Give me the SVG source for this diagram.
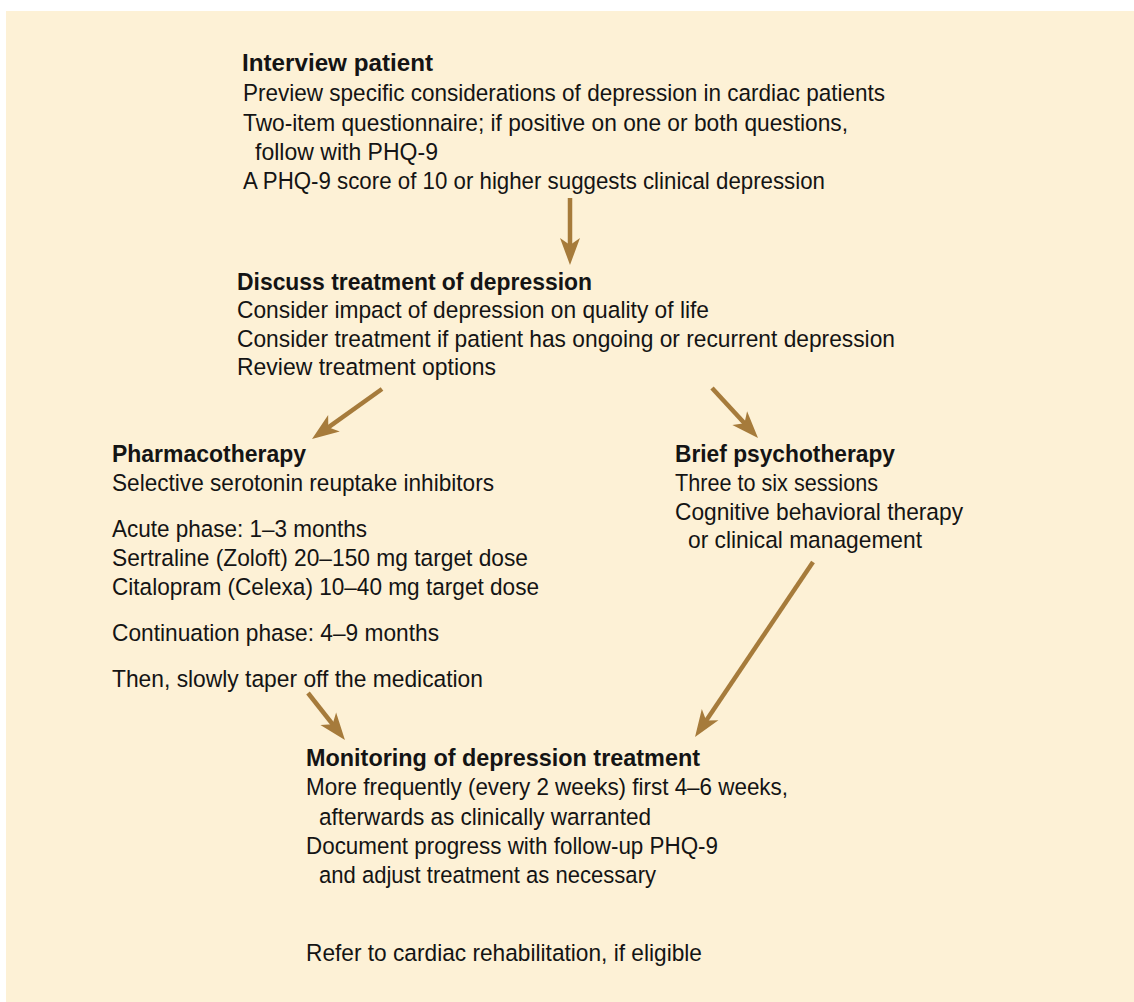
<svg xmlns="http://www.w3.org/2000/svg" width="1134" height="1002" viewBox="0 0 1134 1002">
  <style>
    text { font-family: "Liberation Sans", Arial, sans-serif; font-size: 24.5px; fill: #141414; }
    .h { font-weight: 700; }
    .arrow { stroke: #A67B3B; stroke-width: 4.5; fill: none; marker-end: url(#head); }
  </style>
  <defs>
    <marker id="head" viewBox="-28 -11 30 22" refX="-8" refY="0" markerWidth="30" markerHeight="22" markerUnits="userSpaceOnUse" orient="auto">
      <path d="M0,0 L-27,-10 L-20,0 L-27,10 Z" fill="#A67B3B"/>
    </marker>
  </defs>
  <rect x="6" y="11" width="1128" height="991" fill="#FDF1D6"/>

  <g id="interview">
    <text class="h" x="242" y="71" textLength="191" lengthAdjust="spacingAndGlyphs">Interview patient</text>
    <text x="243" y="101" textLength="642" lengthAdjust="spacingAndGlyphs">Preview specific considerations of depression in cardiac patients</text>
    <text x="243" y="131" textLength="605" lengthAdjust="spacingAndGlyphs">Two-item questionnaire; if positive on one or both questions,</text>
    <text x="255" y="160" textLength="183" lengthAdjust="spacingAndGlyphs">follow with PHQ-9</text>
    <text x="243" y="189" textLength="582" lengthAdjust="spacingAndGlyphs">A PHQ-9 score of 10 or higher suggests clinical depression</text>
  </g>

  <g id="discuss">
    <text class="h" x="237" y="290" textLength="355" lengthAdjust="spacingAndGlyphs">Discuss treatment of depression</text>
    <text x="237" y="318" textLength="472" lengthAdjust="spacingAndGlyphs">Consider impact of depression on quality of life</text>
    <text x="237" y="347" textLength="658" lengthAdjust="spacingAndGlyphs">Consider treatment if patient has ongoing or recurrent depression</text>
    <text x="237" y="375" textLength="259" lengthAdjust="spacingAndGlyphs">Review treatment options</text>
  </g>

  <g id="pharmacotherapy">
    <text class="h" x="112" y="462" textLength="194" lengthAdjust="spacingAndGlyphs">Pharmacotherapy</text>
    <text x="112" y="491" textLength="382" lengthAdjust="spacingAndGlyphs">Selective serotonin reuptake inhibitors</text>
    <text x="112" y="537" textLength="255" lengthAdjust="spacingAndGlyphs">Acute phase: 1–3 months</text>
    <text x="112" y="566" textLength="416" lengthAdjust="spacingAndGlyphs">Sertraline (Zoloft) 20–150 mg target dose</text>
    <text x="112" y="595" textLength="427" lengthAdjust="spacingAndGlyphs">Citalopram (Celexa) 10–40 mg target dose</text>
    <text x="112" y="641" textLength="327" lengthAdjust="spacingAndGlyphs">Continuation phase: 4–9 months</text>
    <text x="112" y="687" textLength="371" lengthAdjust="spacingAndGlyphs">Then, slowly taper off the medication</text>
  </g>

  <g id="psychotherapy">
    <text class="h" x="675" y="462" textLength="220" lengthAdjust="spacingAndGlyphs">Brief psychotherapy</text>
    <text x="675" y="491" textLength="203" lengthAdjust="spacingAndGlyphs">Three to six sessions</text>
    <text x="675" y="520" textLength="288" lengthAdjust="spacingAndGlyphs">Cognitive behavioral therapy</text>
    <text x="688" y="548" textLength="234" lengthAdjust="spacingAndGlyphs">or clinical management</text>
  </g>

  <g id="monitoring">
    <text class="h" x="306" y="766" textLength="394" lengthAdjust="spacingAndGlyphs">Monitoring of depression treatment</text>
    <text x="306" y="795" textLength="482" lengthAdjust="spacingAndGlyphs">More frequently (every 2 weeks) first 4–6 weeks,</text>
    <text x="319" y="825" textLength="332" lengthAdjust="spacingAndGlyphs">afterwards as clinically warranted</text>
    <text x="306" y="854" textLength="412" lengthAdjust="spacingAndGlyphs">Document progress with follow-up PHQ-9</text>
    <text x="319" y="883" textLength="337" lengthAdjust="spacingAndGlyphs">and adjust treatment as necessary</text>
    <text x="306" y="961" textLength="396" lengthAdjust="spacingAndGlyphs">Refer to cardiac rehabilitation, if eligible</text>
  </g>

  <g id="connectors">
    <line class="arrow" x1="570" y1="198" x2="570" y2="257"/>
    <line class="arrow" x1="382" y1="389" x2="318.5" y2="434.3"/>
    <line class="arrow" x1="712" y1="388" x2="752.6" y2="432.1"/>
    <line class="arrow" x1="813" y1="562" x2="699.5" y2="730.4"/>
    <line class="arrow" x1="308" y1="693" x2="340" y2="733.7"/>
  </g>
</svg>
